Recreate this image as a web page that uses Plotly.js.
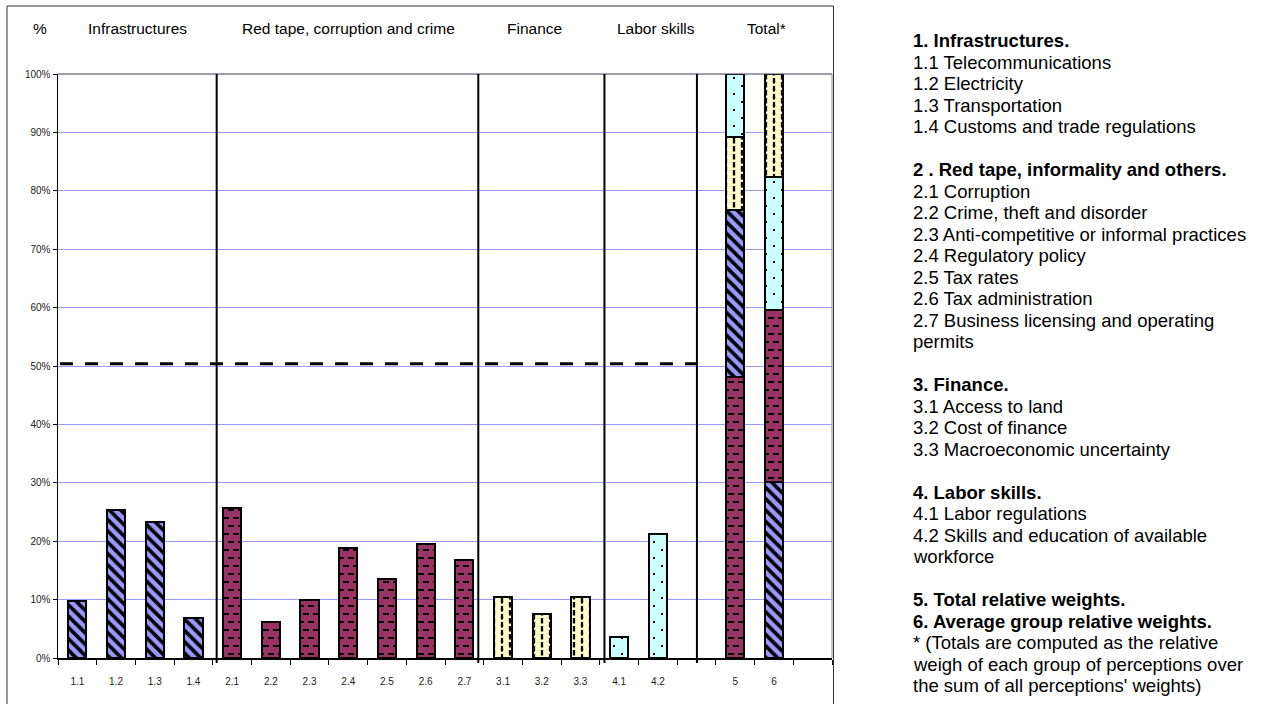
<!DOCTYPE html>
<html>
<head>
<meta charset="utf-8">
<script src="https://cdn.plot.ly/plotly-3.0.1.min.js"></script>
<style>
  html, body { margin: 0; padding: 0; background: #fff; }
  #chart { width: 1268px; height: 704px; }
</style>
</head>
<body>
<div id="chart"></div>
<script>
// Perception items, grouped (0 = infrastructures, 1 = red tape, 2 = finance, 3 = labor skills)
const itemLabels = ['1.1', '1.2', '1.3', '1.4', '2.1', '2.2', '2.3', '2.4', '2.5', '2.6', '2.7', '3.1', '3.2', '3.3', '4.1', '4.2'];
const itemGroups = [0, 0, 0, 0, 1, 1, 1, 1, 1, 1, 1, 2, 2, 2, 3, 3];
const itemValues = [0.097, 0.253, 0.233, 0.068, 0.257, 0.061, 0.100, 0.189, 0.136, 0.196, 0.168, 0.104, 0.076, 0.104, 0.036, 0.213];

// Axis order, with empty slots around the totals
const axisCategories = ['1.1', '1.2', '1.3', '1.4', '2.1', '2.2', '2.3', '2.4', '2.5', '2.6', '2.7', '3.1', '3.2', '3.3', '4.1', '4.2', ' ', '5', '6', '  '];

// Group shares: bar 5 = total relative weights, bar 6 = average group relative weights
const totalLabels = ['5', '6'];
const totalWeights = [0.285, 0.482, 0.125, 0.108];
const averageWeights = [0.301, 0.295, 0.177, 0.227];

const groupHeaders = ['%', 'Infrastructures', 'Red tape, corruption and crime', 'Finance', 'Labor skills', 'Total*'];
const threshold = 0.504;

const notes = [
  '<b>1. Infrastructures.</b>', '1.1 Telecommunications', '1.2 Electricity', '1.3 Transportation', '1.4 Customs and trade regulations', '',
  '<b>2 . Red tape, informality and others.</b>', '2.1 Corruption', '2.2 Crime, theft and disorder', '2.3 Anti-competitive or informal practices',
  '2.4 Regulatory policy', '2.5 Tax rates', '2.6 Tax administration', '2.7 Business licensing and operating', 'permits', '',
  '<b>3. Finance.</b>', '3.1 Access to land', '3.2 Cost of finance', '3.3 Macroeconomic uncertainty', '',
  '<b>4. Labor skills.</b>', '4.1 Labor regulations', '4.2 Skills and education of available', 'workforce', '',
  '<b>5. Total relative weights.</b>', '<b>6. Average group relative weights.</b>',
  '* (Totals are computed as the relative', 'weigh of each group of perceptions over', "the sum of all perceptions' weights)"
];

// Fill style of each group; "tile" swaps the stock pattern for a finer hatch
const groupStyle = [
  { color: '#9999ff', shape: '\\', size: 8, solidity: 0.45 },
  { color: '#993366', shape: '-', size: 8, solidity: 0.22,
    tile: { w: 10, h: 16, stroke: 2.2, d: 'M0,4h6M5,12h5M0,12h1' } },
  { color: '#ffffcc', shape: '|', size: 8, solidity: 0.2,
    tile: { w: 16, h: 8, stroke: 2.3, d: 'M4,0v5.5M12,4v4M12,0v1.5' } },
  { color: '#ccffff', shape: '.', size: 8, solidity: 0.12,
    tile: { w: 16, h: 16, stroke: 2, d: 'M3,4h2M11,12h2' } }
];

// Page geometry
const W = 1268, H = 704;
const M = { l: 58, r: 436, t: 74, b: 46 };
const plotW = W - M.l - M.r, plotH = H - M.t - M.b;
const px2x = p => (p - M.l) / plotW;
const px2y = p => (H - M.b - p) / plotH;
const catX = pos => (pos + 0.5) / axisCategories.length;

const FONT = 'Arial, "Liberation Sans", sans-serif';
const BAR_W = 0.47;

function groupMarker(g) {
  const s = groupStyle[g];
  return {
    color: s.color,
    line: { color: '#000', width: 2 },
    pattern: {
      shape: s.shape, size: s.size, solidity: s.solidity,
      bgcolor: s.color, fgcolor: '#000', fgopacity: 1, fillmode: 'replace'
    }
  };
}

const traces = [];

// keeps every slot of the category axis, empty ones included
traces.push({
  type: 'scatter', mode: 'none', x: axisCategories, y: axisCategories.map(() => 0),
  hoverinfo: 'skip', showlegend: false
});

// one trace per group for the individual items
groupStyle.forEach((s, g) => {
  const idx = itemGroups.map((gg, i) => gg === g ? i : -1).filter(i => i >= 0);
  traces.push({
    type: 'bar', x: idx.map(i => itemLabels[i]), y: idx.map(i => itemValues[i]), width: BAR_W,
    marker: groupMarker(g), hoverinfo: 'skip', showlegend: false
  });
});

// stacked totals: the largest group share sits at the bottom of each column
[totalWeights, averageWeights].forEach((weights, b) => {
  weights.map((v, g) => ({ v, g }))
    .sort((p, q) => q.v - p.v)
    .forEach(seg => traces.push({
      type: 'bar', x: [totalLabels[b]], y: [seg.v], width: BAR_W,
      marker: groupMarker(seg.g), hoverinfo: 'skip', showlegend: false
    }));
});

// group separators (fractional category positions)
const separators = [3.60, 10.36, 13.62, 16.01];

const shapes = [
  // outer frame
  { type: 'rect', xref: 'paper', yref: 'paper', x0: px2x(7), x1: px2x(833.5), y0: px2y(760), y1: px2y(6),
    line: { color: '#333', width: 1 }, fillcolor: 'rgba(0,0,0,0)', layer: 'below' },
  // plot area border
  { type: 'line', xref: 'paper', yref: 'paper', x0: 1, x1: 1, y0: 0, y1: 1, line: { color: '#8c8c8c', width: 1 } },
  { type: 'line', xref: 'paper', yref: 'paper', x0: 0, x1: 1, y0: 1, y1: 1, line: { color: '#3a3a5a', width: 1 } }
];
separators.forEach(pos => shapes.push({
  type: 'line', xref: 'paper', yref: 'paper', x0: catX(pos), x1: catX(pos), y0: px2y(663), y1: 1,
  line: { color: '#000', width: 2 }
}));
shapes.push({
  type: 'line', xref: 'paper', yref: 'paper', x0: px2x(60), x1: px2x(705), y0: threshold, y1: threshold,
  line: { color: '#000', width: 3, dash: '13px,12px' }
});

const headerX = [40, 137.8, 348, 534, 655.5, 766];
const annotations = groupHeaders.map((t, i) => ({
  text: t, xref: 'paper', yref: 'paper', x: px2x(headerX[i]), y: px2y(29),
  xanchor: 'center', yanchor: 'middle', showarrow: false,
  font: { family: FONT, size: 15.5, color: '#000' }
}));
notes.forEach((t, i) => {
  if (!t) return;
  annotations.push({
    text: t, xref: 'paper', yref: 'paper', x: px2x(911), y: px2y(40.7 + i * 21.5),
    xanchor: 'left', yanchor: 'middle', showarrow: false, align: 'left',
    font: { family: FONT, size: 18.5, color: '#000' }
  });
});

const layout = {
  width: W, height: H,
  margin: M,
  paper_bgcolor: '#fff', plot_bgcolor: '#fff',
  barmode: 'stack',
  showlegend: false,
  font: { family: FONT, color: '#000' },
  xaxis: {
    type: 'category', categoryorder: 'array', categoryarray: axisCategories,
    range: [-0.5, axisCategories.length - 0.5],
    showgrid: false, zeroline: false,
    showline: true, linecolor: '#000', linewidth: 1.5,
    ticks: 'outside', tickson: 'boundaries', ticklen: 5, tickcolor: '#000', tickwidth: 1,
    tickfont: { family: FONT, size: 10, color: '#222' }, ticklabelstandoff: 13
  },
  yaxis: {
    range: [0, 1], dtick: 0.1, tickformat: '.0%',
    showgrid: true, gridcolor: '#9999ff', gridwidth: 1, zeroline: false,
    showline: true, linecolor: '#000', linewidth: 1.5,
    ticks: 'outside', ticklen: 4, tickcolor: '#000', tickwidth: 1,
    tickfont: { family: FONT, size: 10, color: '#222' }
  },
  shapes: shapes,
  annotations: annotations
};

// Replace the stock line/dot tiles with dashed hatches (short dashes, staggered dots)
const SVGNS = 'http://www.w3.org/2000/svg';
function toRGB(hex) {
  const n = parseInt(hex.slice(1), 16);
  return 'rgb(' + (n >> 16) + ',' + ((n >> 8) & 255) + ',' + (n & 255) + ')';
}
function refinePatterns(gd) {
  gd.querySelectorAll('pattern').forEach(pat => {
    const bg = pat.querySelector('rect');
    if (!bg) return;
    const fill = (bg.getAttribute('fill') || '').replace(/\s/g, '');
    const style = groupStyle.find(s => s.tile && toRGB(s.color) === fill);
    if (!style) return;
    const t = style.tile;
    pat.setAttribute('width', t.w + 'px');
    pat.setAttribute('height', t.h + 'px');
    bg.setAttribute('width', t.w + 'px');
    bg.setAttribute('height', t.h + 'px');
    Array.from(pat.children).forEach(c => { if (c !== bg) pat.removeChild(c); });
    const p = document.createElementNS(SVGNS, 'path');
    p.setAttribute('d', t.d);
    p.setAttribute('stroke', '#000');
    p.setAttribute('stroke-width', t.stroke);
    p.setAttribute('fill', 'none');
    pat.appendChild(p);
  });
}

Plotly.newPlot('chart', traces, layout, { staticPlot: true, displayModeBar: false })
  .then(gd => refinePatterns(gd));
</script>
</body>
</html>
